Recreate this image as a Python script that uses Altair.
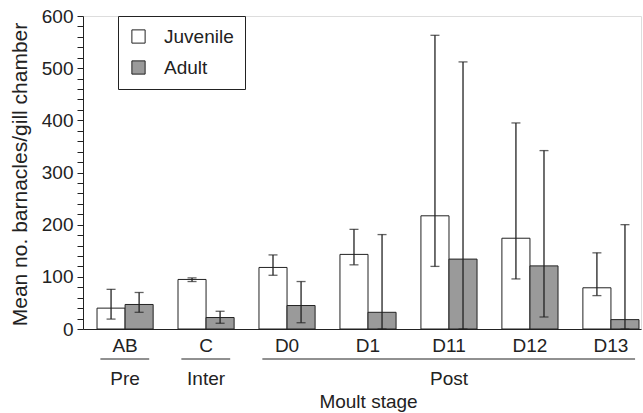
import altair as alt
import pandas as pd

stages = ["AB", "C", "D0", "D1", "D11", "D12", "D13"]
ages = ["Juvenile", "Adult"]
juv_mean = [40, 95, 118, 143, 217, 174, 79]
juv_lo = [19, 91, 103, 123, 120, 96, 64]
juv_hi = [76, 98, 142, 191, 563, 395, 146]
adu_mean = [47, 22, 45, 32, 134, 121, 18]
adu_lo = [32, 11, 12, 0, 0, 23, 0]
adu_hi = [70, 34, 91, 181, 512, 342, 200]

groups = ["Pre", "Inter", "Post"]
group_start = ["AB", "C", "D0"]
group_end = ["AB", "C", "D13"]
group_label_at = ["AB", "C", "D11"]

FONT = "Liberation Sans"
INK = "#222222"
FS = 19

rows = []
for i, s in enumerate(stages):
    rows.append({"stage": s, "age": "Juvenile", "mean": juv_mean[i], "lo": juv_lo[i], "hi": juv_hi[i]})
    rows.append({"stage": s, "age": "Adult", "mean": adu_mean[i], "lo": adu_lo[i], "hi": adu_hi[i]})
df = pd.DataFrame(rows)

gdf = pd.DataFrame({"group": groups, "start": group_start, "end": group_end, "at": group_label_at})

xscale = alt.Scale(domain=stages, paddingInner=0.307, paddingOuter=0.099, align=0.875)
offscale = alt.Scale(domain=ages, paddingInner=0, paddingOuter=0)
yscale = alt.Scale(domain=[0, 600], nice=False)

xaxis = alt.Axis(title="Moult stage", labelAngle=0, ticks=False, tickSize=0, labelPadding=22,
                 labelBaseline="alphabetic",
                 labelFontSize=FS, labelFont=FONT, labelColor=INK,
                 domainColor=INK, domainWidth=1, grid=False,
                 titleFontSize=FS, titleFont=FONT, titleColor=INK, titleFontWeight="normal",
                 titleX=285, titleY=78, titleBaseline="alphabetic", titleAlign="center")
yaxis = alt.Axis(title="Mean no. barnacles/gill chamber",
                 values=list(range(0, 601, 20)),
                 labelExpr="datum.value % 100 == 0 ? datum.label : ''",
                 labelOverlap=False, labelFlush=False,
                 ticks=True, tickSize=6, tickColor=INK, tickWidth=1, labelPadding=4,
                 labelFontSize=FS, labelFont=FONT, labelColor=INK,
                 domainColor=INK, domainWidth=1, grid=False,
                 titleFontSize=21, titleFont=FONT, titleColor=INK, titleFontWeight="normal",
                 titleX=-63, titleY=158, titleAngle=270, titleAlign="center",
                 titleBaseline="middle")

def X(field, **kw):
    return alt.X(field, scale=xscale, sort=stages, axis=xaxis, title="Moult stage", **kw)

def Y(field):
    return alt.Y(field, scale=yscale, axis=yaxis, title="Mean no. barnacles/gill chamber")

XO = alt.XOffset("age:N", scale=offscale, sort=ages)

base = alt.Chart(df)

bars = base.mark_bar(stroke=INK, strokeWidth=1).encode(
    x=X("stage:N"),
    xOffset=XO,
    y=Y("mean:Q"),
    fill=alt.Fill("age:N", scale=alt.Scale(domain=ages, range=["#ffffff", "#9a9a9a"]),
                  legend=alt.Legend(orient="none", legendX=35, legendY=0, title=None,
                                    direction="vertical", strokeColor=INK, fillColor="white",
                                    padding=11, symbolType="square", symbolSize=175,
                                    symbolStrokeColor=INK, symbolStrokeWidth=1,
                                    labelFontSize=FS, labelFont=FONT, labelColor=INK,
                                    rowPadding=11, labelOffset=16)),
)

err = base.mark_rule(color=INK, strokeWidth=1.3).encode(
    x=X("stage:N"),
    xOffset=XO,
    y=Y("lo:Q"),
    y2="hi:Q",
)

cap_hi = base.mark_tick(color=INK, thickness=1.3, size=9).encode(
    x=X("stage:N"),
    xOffset=XO,
    y=Y("hi:Q"),
)
cap_lo = base.mark_tick(color=INK, thickness=1.3, size=9).encode(
    x=X("stage:N"),
    xOffset=XO,
    y=Y("lo:Q"),
)

gbase = alt.Chart(gdf)
glines = gbase.mark_rule(color=INK, strokeWidth=1).encode(
    x=X("start:N", bandPosition=0.06),
    x2=alt.X2("end:N", bandPosition=0.93),
    y=alt.value(343),
)
gtext = gbase.mark_text(font=FONT, fontSize=FS, color=INK, baseline="alphabetic", align="center").encode(
    x=X("at:N"),
    y=alt.value(369),
    text="group:N",
)

chart = alt.layer(bars, err, cap_hi, cap_lo, glines, gtext).properties(
    width=558, height=313,
    autosize=alt.AutoSizeParams(type="none"),
    padding={"left": 83, "top": 16, "right": 2, "bottom": 84},
).configure_view(stroke=None).configure(background="white")

chart.save("out.html", embed_options={"renderer": "svg", "actions": False})
